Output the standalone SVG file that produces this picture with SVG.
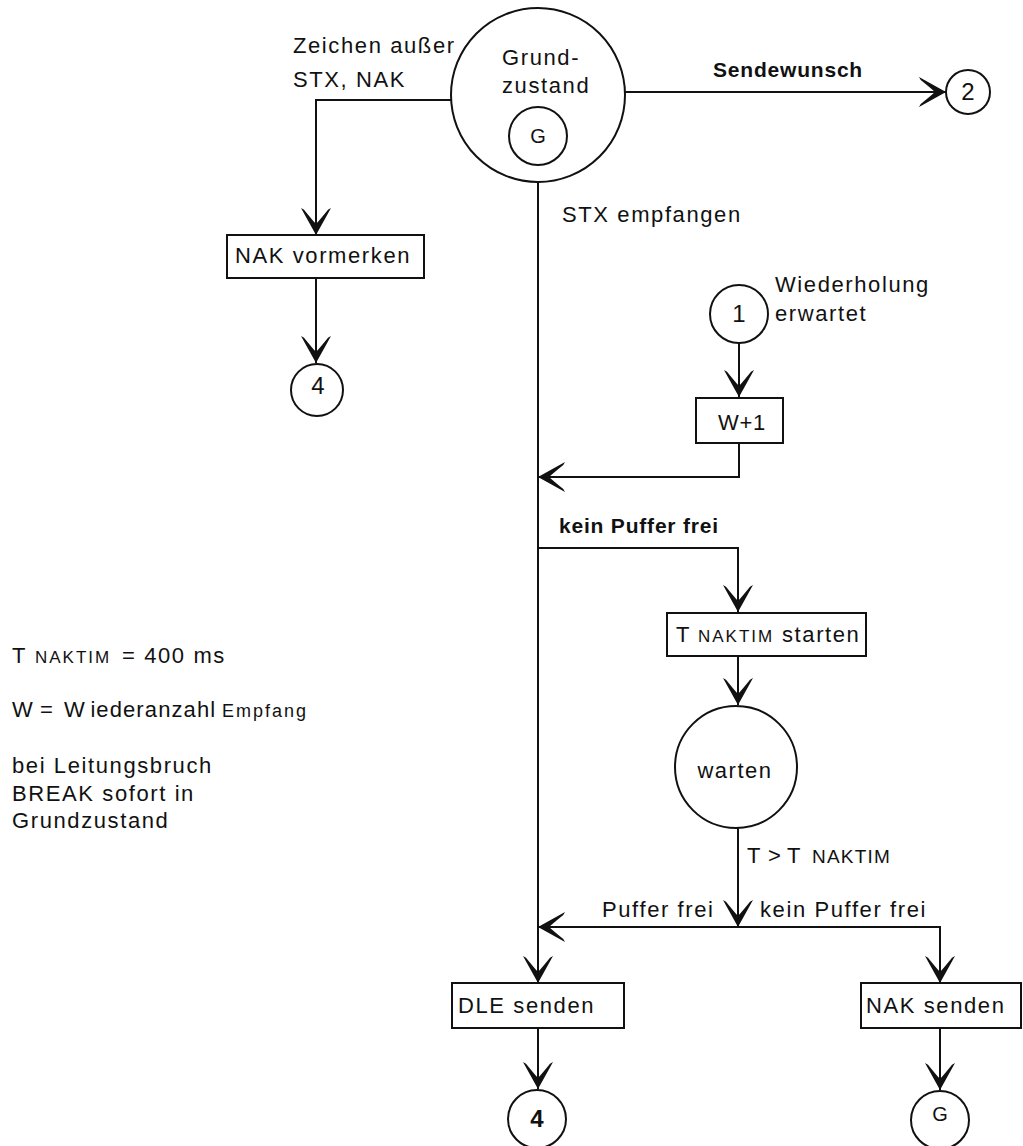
<svg xmlns="http://www.w3.org/2000/svg" width="1023" height="1146" viewBox="0 0 1023 1146">
  <defs>
    <!-- barbed arrowhead, tip at the path end -->
    <marker id="ah" markerUnits="userSpaceOnUse" viewBox="-29 -17 31 34" refX="0" refY="0" markerWidth="31" markerHeight="34" orient="auto">
      <path d="M0,0 L-27,-15 L-25.3,-12 Q-16,-4.5 -11,0 Q-16,4.5 -25.3,12 L-27,15 Z" fill="#111"/>
    </marker>
    <style>
      .c { fill: none; stroke: #111; stroke-width: 2; }
      .s { fill: #fff; stroke: #111; stroke-width: 2; }
      .t { font-family: "Liberation Sans", Arial, sans-serif; font-size: 22px; letter-spacing: 1.6px; fill: #111; }
      .b { font-weight: bold; font-size: 21px; letter-spacing: 0.8px; }
      .sc { font-size: 17px; letter-spacing: 2px; }
      .m { text-anchor: middle; letter-spacing: 0; }
      .d { font-size: 24px; }
    </style>
  </defs>

  <rect width="1023" height="1146" fill="#fff"/>

  <!-- connectors -->
  <g id="connectors">
    <path class="c" d="M451,100 H316 V235" marker-end="url(#ah)"/>
    <path class="c" d="M316,278 V363" marker-end="url(#ah)"/>
    <path class="c" d="M625,92 H946" marker-end="url(#ah)"/>
    <path class="c" d="M538,182 V983" marker-end="url(#ah)"/>
    <path class="c" d="M739,343 V397" marker-end="url(#ah)"/>
    <path class="c" d="M739,443 V477 H538" marker-end="url(#ah)"/>
    <path class="c" d="M538,548 H738 V612" marker-end="url(#ah)"/>
    <path class="c" d="M738,656 V705" marker-end="url(#ah)"/>
    <path class="c" d="M738,828 V927" marker-end="url(#ah)"/>
    <path class="c" d="M738,927 H538" marker-end="url(#ah)"/>
    <path class="c" d="M738,927 H940 V983" marker-end="url(#ah)"/>
    <path class="c" d="M538,1028 V1089" marker-end="url(#ah)"/>
    <path class="c" d="M940,1028 V1090" marker-end="url(#ah)"/>
  </g>

  <!-- connector labels -->
  <g id="edge-labels" class="t">
    <text x="293" y="53">Zeichen außer</text>
    <text x="293" y="87">STX, NAK</text>
    <text class="b" x="713" y="77">Sendewunsch</text>
    <text x="562" y="222">STX empfangen</text>
    <text class="b" x="559" y="533">kein Puffer frei</text>
    <text x="747" y="863">T<tspan x="768">&gt;</tspan><tspan x="787">T</tspan><tspan class="sc" x="812" style="font-size:19px;letter-spacing:1.2px">NAKTIM</tspan></text>
    <text x="602" y="917">Puffer frei</text>
    <text x="760" y="917">kein Puffer frei</text>
  </g>

  <!-- initial state -->
  <g id="n-grundzustand">
    <circle class="s" cx="538" cy="95" r="87"/>
    <circle class="s" cx="538" cy="136" r="29"/>
    <text class="t" x="502" y="65">Grund-</text>
    <text class="t" x="502" y="93">zustand</text>
    <text class="t m" x="538" y="143" style="font-size:20px">G</text>
  </g>

  <g id="n-2">
    <circle class="s" cx="968" cy="92" r="22"/>
    <text class="t m d" x="968" y="100">2</text>
  </g>

  <g id="n-nak-vormerken">
    <rect class="s" x="227" y="235" width="197" height="43"/>
    <text class="t" x="235" y="263">NAK vormerken</text>
  </g>

  <g id="n-4-top">
    <circle class="s" cx="317" cy="390" r="26"/>
    <text class="t m d" x="318" y="394">4</text>
  </g>

  <g id="n-1">
    <circle class="s" cx="739" cy="314" r="29"/>
    <text class="t m d" x="739" y="322">1</text>
    <text class="t" x="775" y="292">Wiederholung</text>
    <text class="t" x="775" y="321">erwartet</text>
  </g>

  <g id="n-w-plus-1">
    <rect class="s" x="696" y="398" width="87" height="45"/>
    <text class="t m" x="742" y="430" style="letter-spacing:0.8px">W+1</text>
  </g>

  <g id="n-timer-start">
    <rect class="s" x="667" y="613" width="199" height="43"/>
    <text class="t" x="676" y="642">T<tspan class="sc" x="698">NAKTIM</tspan><tspan x="782">starten</tspan></text>
  </g>

  <g id="n-warten">
    <circle class="s" cx="736" cy="767" r="61"/>
    <text class="t m" x="735" y="778" style="letter-spacing:1.5px">warten</text>
  </g>

  <g id="n-dle-senden">
    <rect class="s" x="452" y="983" width="172" height="45"/>
    <text class="t" x="458" y="1013">DLE senden</text>
  </g>

  <g id="n-4-bottom">
    <circle class="s" cx="537" cy="1119" r="29"/>
    <text class="t m d" x="537" y="1127" style="font-weight:bold">4</text>
  </g>

  <g id="n-nak-senden">
    <rect class="s" x="861" y="983" width="160" height="45"/>
    <text class="t" x="866" y="1013">NAK senden</text>
  </g>

  <g id="n-g-bottom">
    <circle class="s" cx="940" cy="1120" r="29"/>
    <text class="t m" x="940" y="1121" style="font-size:20px">G</text>
  </g>

  <!-- legend -->
  <g id="notes" class="t">
    <text x="12" y="663">T<tspan class="sc" x="35">NAKTIM</tspan><tspan x="122">= 400 ms</tspan></text>
    <text x="12" y="717">W<tspan x="40">=</tspan><tspan x="64">W</tspan><tspan dx="4" style="letter-spacing:1.1px">iederanzahl</tspan><tspan class="sc" x="222" style="font-size:18px;letter-spacing:2px">Empfang</tspan></text>
    <text x="12" y="773">bei Leitungsbruch</text>
    <text x="12" y="801">BREAK sofort in</text>
    <text x="12" y="828">Grundzustand</text>
  </g>
</svg>
